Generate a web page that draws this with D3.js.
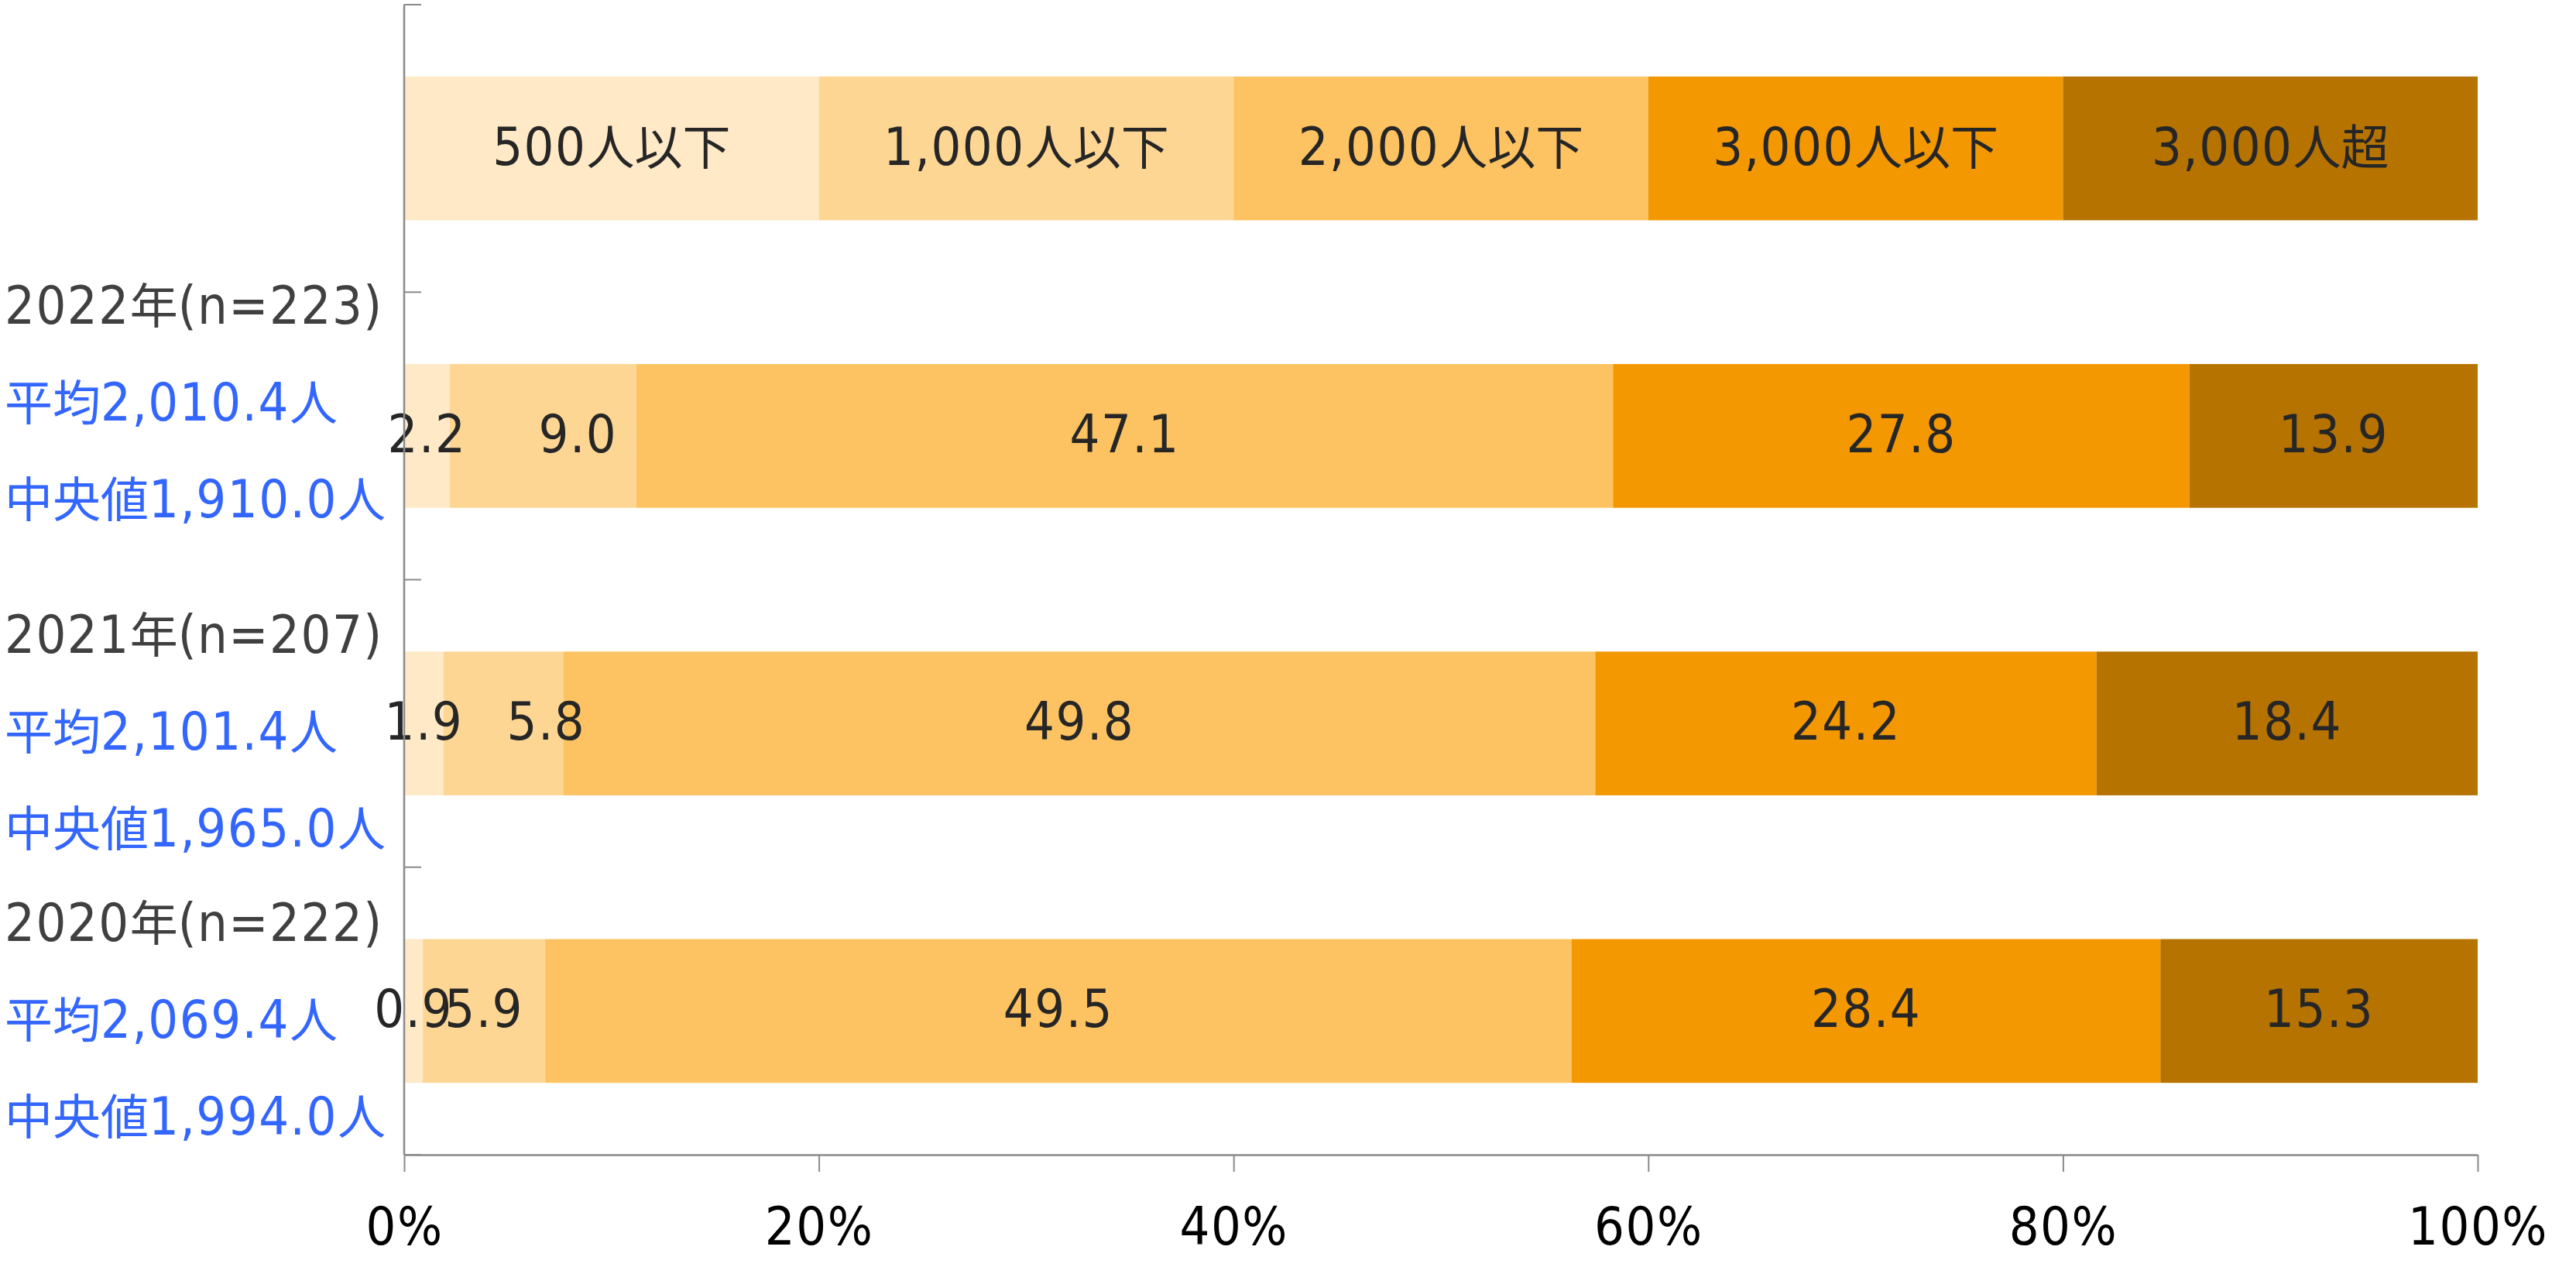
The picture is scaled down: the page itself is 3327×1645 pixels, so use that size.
<!DOCTYPE html>
<html>
<head>
<meta charset="utf-8">
<script src="https://cdn.jsdelivr.net/npm/d3@7"></script>
<style>
  html, body { margin: 0; padding: 0; background: #ffffff; }
  svg { display: block; }
  text { font-family: "DejaVu Sans Condensed", "DejaVu Sans", "Noto Sans CJK JP", sans-serif; font-stretch: condensed; }
  tspan.lat { letter-spacing: 1.5px; }
  tspan.cjk { font-family: "Noto Sans CJK JP", sans-serif; font-stretch: normal; }
</style>
</head>
<body>
<svg id="chart"></svg>
<script>
// ---------------- data ----------------
const years = ["2022年(n=223)", "2021年(n=207)", "2020年(n=222)"];
const meanLabels = ["平均2,010.4人", "平均2,101.4人", "平均2,069.4人"];
const medianLabels = ["中央値1,910.0人", "中央値1,965.0人", "中央値1,994.0人"];
const seriesNames = ["500人以下", "1,000人以下", "2,000人以下", "3,000人以下", "3,000人超"];
const legendRowValues = [20, 20, 20, 20, 20];
const s500 = [2.2, 1.9, 0.9];
const s1000 = [9.0, 5.8, 5.9];
const s2000 = [47.1, 49.8, 49.5];
const s3000 = [27.8, 24.2, 28.4];
const sOver = [13.9, 18.4, 15.3];
const xTickValues = [0, 0.2, 0.4, 0.6, 0.8, 1.0];

// ---------------- layout / style ----------------
const W = 3327, H = 1645;
const colors = ["#FFE9C7", "#FDD694", "#FDC362", "#F39800", "#B67300"];
const latinSize = 68, cjkSize = 62;
const xLeft = 522, xRight = 3200, yTop = 6, yBottom = 1491;
const axisColor = "#8a8a8a";
// manual label nudges seen in the original (pixels)
const valueLabelNudge = { "0|1": 45, "1|1": 55 };
const catLabelShift = [-45, 9, 10];
const lineGap = 125;

const cjkRe = /[\u3000-\u9fff\uff00-\uffef]/;
function mixedText(textSel, str) {
  const runs = [];
  for (const ch of str) {
    const isCjk = cjkRe.test(ch);
    if (runs.length && runs[runs.length - 1].cjk === isCjk) runs[runs.length - 1].s += ch;
    else runs.push({ cjk: isCjk, s: ch });
  }
  textSel.attr("font-size", latinSize);
  runs.forEach(r => {
    const t = textSel.append("tspan").text(r.s);
    if (r.cjk) t.attr("class", "cjk").attr("font-size", cjkSize);
    else t.attr("class", "lat");
  });
}

const seriesArrays = [s500, s1000, s2000, s3000, sOver];
const LEGEND_KEY = "__legend__";
const rows = [{ key: LEGEND_KEY, legend: true }]
  .concat(years.map((y, i) => ({ key: y, legend: false, idx: i })));
rows.forEach(r => {
  seriesArrays.forEach((arr, j) => {
    r[seriesNames[j]] = r.legend ? legendRowValues[j] : arr[r.idx];
  });
});

const svg = d3.select("#chart").attr("width", W).attr("height", H);

const x = d3.scaleLinear().domain([0, 1]).range([xLeft, xRight]);
const y = d3.scaleBand().domain(rows.map(r => r.key)).range([yTop, yBottom])
  .paddingInner(0.5).paddingOuter(0.25);

const stack = d3.stack().keys(seriesNames).offset(d3.stackOffsetExpand);
const stacked = stack(rows);

// bars
const g = svg.append("g");
stacked.forEach((layer, j) => {
  g.selectAll(null).data(layer).enter().append("rect")
    .attr("x", d => x(d[0]))
    .attr("y", d => y(d.data.key))
    .attr("width", d => x(d[1]) - x(d[0]))
    .attr("height", y.bandwidth())
    .attr("fill", colors[j]);
});

// value labels
stacked.forEach((layer, j) => {
  g.selectAll(null).data(layer).enter().append("text")
    .attr("x", d => {
      const cx = (x(d[0]) + x(d[1])) / 2;
      const nudge = d.data.legend ? 0 : (valueLabelNudge[d.data.idx + "|" + j] || 0);
      return cx + nudge;
    })
    .attr("y", d => y(d.data.key) + y.bandwidth() / 2 + 21)
    .attr("text-anchor", "middle")
    .attr("fill", "#262626")
    .each(function (d) {
      mixedText(d3.select(this), d.data.legend ? seriesNames[j] : d3.format(".1f")(d.data[seriesNames[j]]));
    });
});

// x axis
const xAxis = d3.axisBottom(x).tickValues(xTickValues).tickFormat(d3.format(".0%"))
  .tickSize(22).tickSizeOuter(0).tickPadding(0);
const gx = svg.append("g").attr("transform", `translate(0,${yBottom})`).call(xAxis);
gx.attr("font-family", null).attr("font-size", null);
gx.select(".domain").attr("stroke", axisColor).attr("stroke-width", 2.5);
gx.selectAll(".tick line").attr("stroke", axisColor).attr("stroke-width", 2);
gx.selectAll(".tick text")
  .attr("font-size", latinSize)
  .attr("letter-spacing", "1.5px")
  .attr("fill", "#000")
  .attr("dy", null)
  .attr("y", 116);

// y axis line and ticks at band boundaries
const step = y.step();
const boundaries = [yTop].concat(rows.map(r => y(r.key) + y.bandwidth() + step * 0.25));
svg.append("line")
  .attr("x1", xLeft).attr("x2", xLeft)
  .attr("y1", yTop).attr("y2", yBottom)
  .attr("stroke", axisColor).attr("stroke-width", 2.5);
svg.selectAll(null).data(boundaries).enter().append("line")
  .attr("x1", xLeft).attr("x2", xLeft + 22)
  .attr("y1", d => d).attr("y2", d => d)
  .attr("stroke", axisColor).attr("stroke-width", 2);

// category labels (three lines, left aligned)
const labelG = svg.append("g");
years.forEach((yr, i) => {
  const c = y(yr) + y.bandwidth() / 2 + catLabelShift[i];
  const lines = [
    { t: yr, col: "#404040" },
    { t: meanLabels[i], col: "#3366FF" },
    { t: medianLabels[i], col: "#3366FF" }
  ];
  lines.forEach((ln, k) => {
    const t = labelG.append("text")
      .attr("x", 6)
      .attr("y", c + (k - 1) * lineGap + 25)
      .attr("fill", ln.col);
    mixedText(t, ln.t);
  });
});
</script>
</body>
</html>
